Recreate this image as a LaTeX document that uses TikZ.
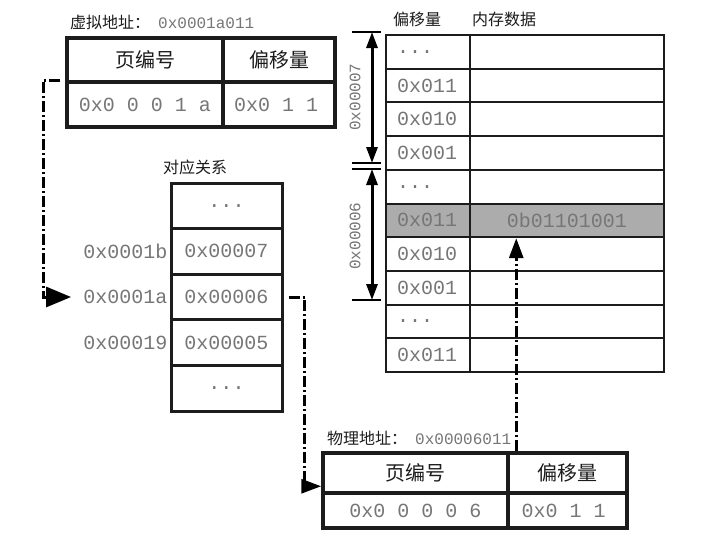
\documentclass[tikz,border=0pt]{standalone}
\usepackage{fontspec}
\setmainfont{Noto Sans CJK SC}
\newfontfamily\hexfont{Liberation Mono}
\usetikzlibrary{arrows.meta,positioning}
\definecolor{hexgray}{RGB}{118,118,118}
\definecolor{rowgray}{RGB}{172,172,172}
\definecolor{inkblack}{RGB}{28,28,28}
\newcommand{\hexval}[1]{{\hexfont\color{hexgray}#1}}
\newcommand{\skiprow}{...}
\newcommand{\leftin}[2]{\makebox[#1][l]{#2}}

\tikzset{
  boxcell/.style={draw=inkblack, line width=3.5pt, inner sep=0pt, text=inkblack},
  mapcell/.style={draw=inkblack, line width=3pt, inner sep=0pt, minimum width=111pt, minimum height=45.6pt},
  memcell/.style={draw=inkblack, line width=2pt, inner sep=0pt, minimum height=33.7pt},
  headtxt/.style={font=\fontsize{20}{24}\selectfont},
  valtxt/.style={font=\hexfont\fontsize{20}{24}\selectfont, text=hexgray, inner sep=1pt},
  captxt/.style={font=\fontsize{16}{19}\selectfont, text=inkblack, inner sep=0pt},
  spantxt/.style={font=\hexfont\fontsize{16}{19}\selectfont, text=hexgray, inner sep=0pt},
  lookup/.style={draw=black, line width=3pt, dash pattern=on 11pt off 3pt on 2pt off 3pt,
    ->, >={Triangle[length=20pt,width=14pt]}},
  spanarrow/.style={line width=3pt, <->, >={Triangle[length=16pt,width=11pt]}},
  spantick/.style={line width=2.5pt},
}

\begin{document}
\begin{tikzpicture}[x=1pt,y=-1pt]
  \path[fill=white] (0,0) rectangle (720,544);

  % virtual address
  \node[captxt, anchor=west] (vlabel) at (70,22) {虚拟地址：\hspace{8pt}\hexval{0x0001a011}};
  \node[boxcell, headtxt, minimum width=156pt, minimum height=44pt] (vph) at (145,60) {页编号};
  \node[boxcell, headtxt, minimum width=112pt, minimum height=44pt] (voh) at (279,60) {偏移量};
  \node[boxcell, valtxt, minimum width=156pt, minimum height=45pt] (vpv) at (145,104.5) {0x0 0 0 1 a};
  \node[boxcell, valtxt, minimum width=112pt, minimum height=45pt] (vov) at (279,104.5)
    {\leftin{90pt}{0x0 1 1}};

  % page table
  \node[captxt, anchor=west] (maplabel) at (163,167) {对应关系};
  \foreach \pf [count=\i] in {\skiprow, 0x00007, 0x00006, 0x00005, \skiprow}
  {%
    \node[mapcell, valtxt] (map\i) at (226.5,{183+45.6*(\i-0.5)}) {\pf};
  }
  \node[valtxt, left=1pt of map2] (vpb) {0x0001b};
  \node[valtxt, left=1pt of map3] (vpa) {0x0001a};
  \node[valtxt, left=1pt of map4] (vp9) {0x00019};

  % memory
  \node[captxt, anchor=west] (offlabel) at (393,19) {偏移量};
  \node[captxt, anchor=west] (datlabel) at (472,19) {内存数据};
  \foreach \off/\dat/\shade [count=\i] in {\skiprow/{}/white, 0x011/{}/white, 0x010/{}/white,
      0x001/{}/white, \skiprow/{}/white, 0x011/0b01101001/rowgray, 0x010/{}/white,
      0x001/{}/white, \skiprow/{}/white, 0x011/{}/white}
  {%
    \node[memcell, valtxt, fill=\shade, minimum width=84pt] (mo\i) at (428,{35+33.7*(\i-0.5)})
      {\leftin{62pt}{\off}};
    \node[memcell, valtxt, fill=\shade, minimum width=194pt] (md\i) at (567,{35+33.7*(\i-0.5)}) {\dat};
  }

  % page spans
  \coordinate (s7top) at (372,32);
  \coordinate (s7bot) at (372,163);
  \coordinate (s6top) at (372,169);
  \coordinate (s6bot) at (372,300);
  \draw[spanarrow] (s7top) -- (s7bot);
  \draw[spanarrow] (s6top) -- (s6bot);
  \foreach \c in {s7top,s7bot,s6top,s6bot}
  {%
    \draw[spantick] ([xshift=-20pt]\c) -- ([xshift=9pt]\c);
  }
  \node[spantxt, rotate=90] (s7txt) at (355,97) {0x00007};
  \node[spantxt, rotate=90] (s6txt) at (355,236) {0x00006};

  % physical address
  \node[captxt, anchor=west] (plabel) at (327,438) {物理地址：\hspace{8pt}\hexval{0x00006011}};
  \node[boxcell, headtxt, minimum width=185pt, minimum height=40pt] (pph) at (415.5,473) {页编号};
  \node[boxcell, headtxt, minimum width=119pt, minimum height=40pt] (poh) at (567.5,473) {偏移量};
  \node[boxcell, valtxt, minimum width=185pt, minimum height=35pt] (ppv) at (415.5,510.5) {0x0 0 0 0 6};
  \node[boxcell, valtxt, minimum width=119pt, minimum height=35pt] (pov) at (567.5,510.5)
    {\leftin{92pt}{0x0 1 1}};

  % lookups
  \draw[lookup, >={Triangle[length=25pt,width=20pt]}] ([xshift=-5pt]vpv.north west)
    -- ([xshift=-22pt]vpv.north west) |- ([xshift=-11pt]vpa.west);
  \draw[lookup] ([xshift=5pt]map3.east) -- ([xshift=21pt]map3.east)
    |- ([yshift=5pt]ppv.north west);
  \draw[lookup] ([xshift=10pt]poh.north west) -- ([xshift=10pt]poh.north west |- md6.south);
\end{tikzpicture}
\end{document}
